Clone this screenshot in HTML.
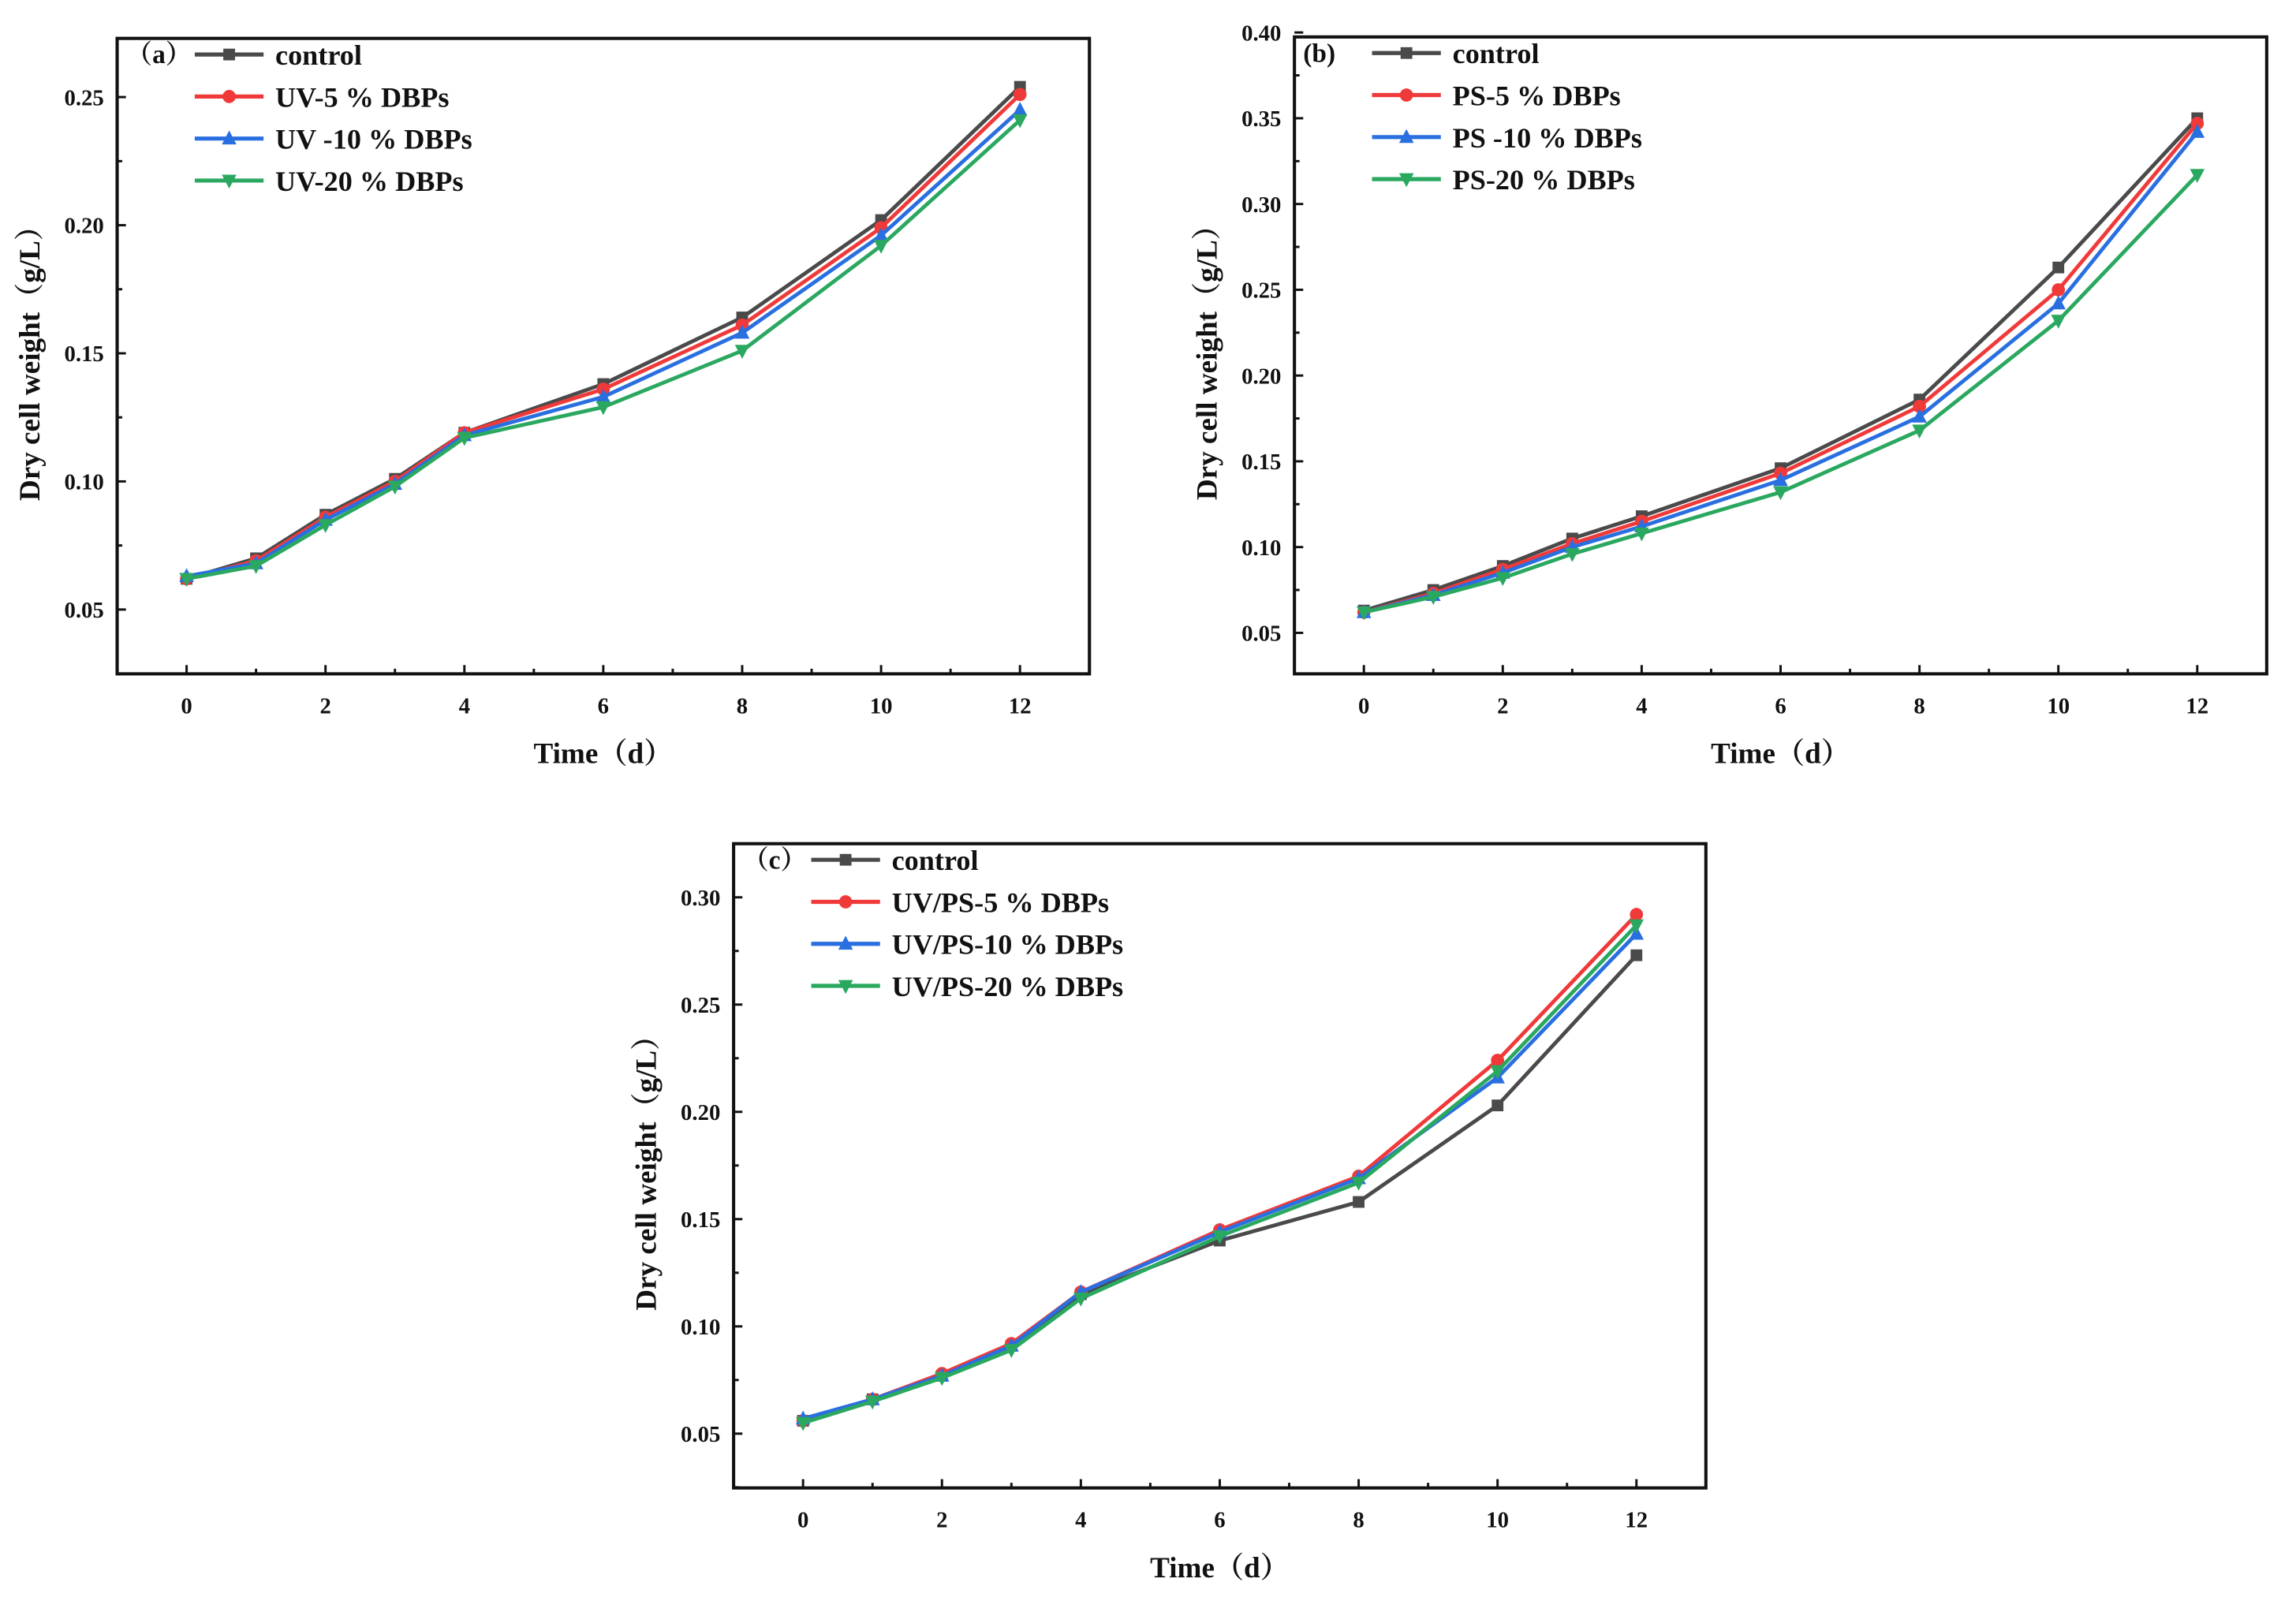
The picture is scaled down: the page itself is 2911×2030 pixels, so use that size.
<!DOCTYPE html>
<html><head><meta charset="utf-8"><style>
html,body{margin:0;padding:0;background:#fff;}
svg{display:block;}
text{font-family:"Liberation Serif","Noto Serif CJK SC",serif;font-weight:bold;fill:#111;}
</style></head><body>
<svg id="fig" width="2911" height="2030" viewBox="0 0 1568 1093" xmlns="http://www.w3.org/2000/svg"></svg>
<script>
const days = [0,1,2,3,4,6,8,10,12];
const xTicks = [0,2,4,6,8,10,12];
const colors = ['#4a4a4a','#f03a3a','#2a6fe0','#2aa860'];
const markers = ['square','circle','up','down'];

const aLabels = ['control','UV-5 % DBPs','UV -10 % DBPs','UV-20 % DBPs'];
const aControl = [0.062,0.070,0.087,0.101,0.119,0.138,0.164,0.202,0.254];
const aS5 = [0.062,0.069,0.086,0.100,0.119,0.136,0.161,0.199,0.251];
const aS10 = [0.063,0.068,0.085,0.099,0.118,0.133,0.158,0.196,0.245];
const aS20 = [0.062,0.067,0.083,0.098,0.117,0.129,0.151,0.192,0.241];
const aYTicks = ['0.05','0.10','0.15','0.20','0.25'];

const bLabels = ['control','PS-5 % DBPs','PS -10 % DBPs','PS-20 % DBPs'];
const bControl = [0.063,0.075,0.089,0.105,0.118,0.146,0.186,0.263,0.350];
const bS5 = [0.062,0.073,0.087,0.102,0.115,0.143,0.182,0.250,0.347];
const bS10 = [0.062,0.072,0.085,0.100,0.112,0.139,0.176,0.242,0.342];
const bS20 = [0.062,0.071,0.082,0.096,0.108,0.132,0.168,0.232,0.317];
const bYTicks = ['0.05','0.10','0.15','0.20','0.25','0.30','0.35','0.40'];

const cLabels = ['control','UV/PS-5 % DBPs','UV/PS-10 % DBPs','UV/PS-20 % DBPs'];
const cControl = [0.056,0.066,0.077,0.091,0.115,0.140,0.158,0.203,0.273];
const cS5 = [0.056,0.066,0.078,0.092,0.116,0.145,0.170,0.224,0.292];
const cS10 = [0.057,0.066,0.077,0.091,0.116,0.144,0.169,0.216,0.283];
const cS20 = [0.055,0.065,0.076,0.089,0.113,0.142,0.167,0.219,0.287];
const cYTicks = ['0.05','0.10','0.15','0.20','0.25','0.30'];

const NS='http://www.w3.org/2000/svg';
const svg=document.getElementById('fig');
function mk(tag,attrs,parent){const e=document.createElementNS(NS,tag);for(const k in attrs)e.setAttribute(k,attrs[k]);(parent||svg).appendChild(e);return e;}

function marker(g,type,x,y,col,r){
  let e;
  if(type==='square') e=mk('rect',{x:x-r,y:y-r,width:2*r,height:2*r,fill:col},g);
  else if(type==='circle') e=mk('circle',{cx:x,cy:y,r:r+0.5,fill:col},g);
  else if(type==='up') e=mk('polygon',{points:`${x},${y-r-1.5} ${x-r-1},${y+r} ${x+r+1},${y+r}`,fill:col},g);
  else e=mk('polygon',{points:`${x},${y+r+1.5} ${x-r-1},${y-r} ${x+r+1},${y-r}`,fill:col},g);
  return e;
}

function panel(id,L,R,T,B,ymin,ymax,series,labels,yTicks,tag){
  const g=mk('g',{});
  
  
  const xs=v=>L+(v+1)/14*(R-L);
  const ys=v=>B-(v-ymin)/(ymax-ymin)*(B-T);
  const frame=mk('rect',{x:L,y:T,width:R-L,height:B-T,fill:'none',stroke:'#111','stroke-width':2.2},g);
  
  
  for(let d=0;d<=12;d++){
    const major=d%2===0;
    mk('line',{x1:xs(d),x2:xs(d),y1:B,y2:B-(major?6:3.5),stroke:'#111','stroke-width':1.6},g);
  }
  xTicks.forEach(d=>{
    const t=mk('text',{x:xs(d),y:B+27,'text-anchor':'middle','font-size':15.5},g);
    t.textContent=d;
    
    
  });
  yTicks.forEach((s,i)=>{
    const v=parseFloat(s);
    mk('line',{x1:L,x2:L+6,y1:ys(v),y2:ys(v),stroke:'#111','stroke-width':1.6},g);
    const half=v-0.025;
    if(half>ymin) mk('line',{x1:L,x2:L+3.5,y1:ys(half),y2:ys(half),stroke:'#111','stroke-width':1.6},g);
    const t=mk('text',{x:L-9,y:ys(v)+5.5,'text-anchor':'end','font-size':15.5},g);
    t.textContent=s;
    
    
  });
  const last=parseFloat(yTicks[yTicks.length-1])+0.025;
  if(last<ymax) mk('line',{x1:L,x2:L+3.5,y1:ys(last),y2:ys(last),stroke:'#111','stroke-width':1.6},g);
  const xt=mk('text',{x:(L+R)/2,y:B+61,'text-anchor':'middle','font-size':20},g);
  xt.textContent='Time（d）';
  
  
  const cy=(T+B)/2;
  const yt=mk('text',{x:L-53,y:cy,'text-anchor':'middle','font-size':20,transform:`rotate(-90 ${L-53} ${cy})`},g);
  yt.textContent='Dry cell weight（g/L）';
  
  
  series.forEach((vals,si)=>{
    const sg=mk('g',{},g);
    
    
    const pts=vals.map((v,i)=>xs(days[i])+','+ys(v)).join(' ');
    mk('polyline',{points:pts,fill:'none',stroke:colors[si],'stroke-width':2.6},sg);
    vals.forEach((v,i)=>{
      const m=marker(sg,markers[si],xs(days[i]),ys(v),colors[si],4);
      
      
    });
  });
  const lg=mk('g',{},g);
  
  
  const pl=mk('text',{x:L+6,y:T+17,'font-size':18},lg);
  pl.textContent=tag;
  
  
  labels.forEach((lab,i)=>{
    const y=T+11+i*28.7;
    const e=mk('g',{},lg);
    
    
    mk('line',{x1:L+53,x2:L+100,y1:y,y2:y,stroke:colors[i],'stroke-width':2.8},e);
    marker(e,markers[i],L+76.5,y,colors[i],4);
    const t=mk('text',{x:L+108,y:y+7,'font-size':19.5},e);
    t.textContent=lab;
  });
}

panel('a',80,744,26,460,0.0249,0.2729,[aControl,aS5,aS10,aS20],aLabels,aYTicks,'（a）');
panel('b',884,1548,25,460,0.0261,0.3974,[bControl,bS5,bS10,bS20],bLabels,bYTicks,'(b)');
panel('c',501,1165,576,1016,0.0247,0.325,[cControl,cS5,cS10,cS20],cLabels,cYTicks,'（c）');
</script>
</body></html>
